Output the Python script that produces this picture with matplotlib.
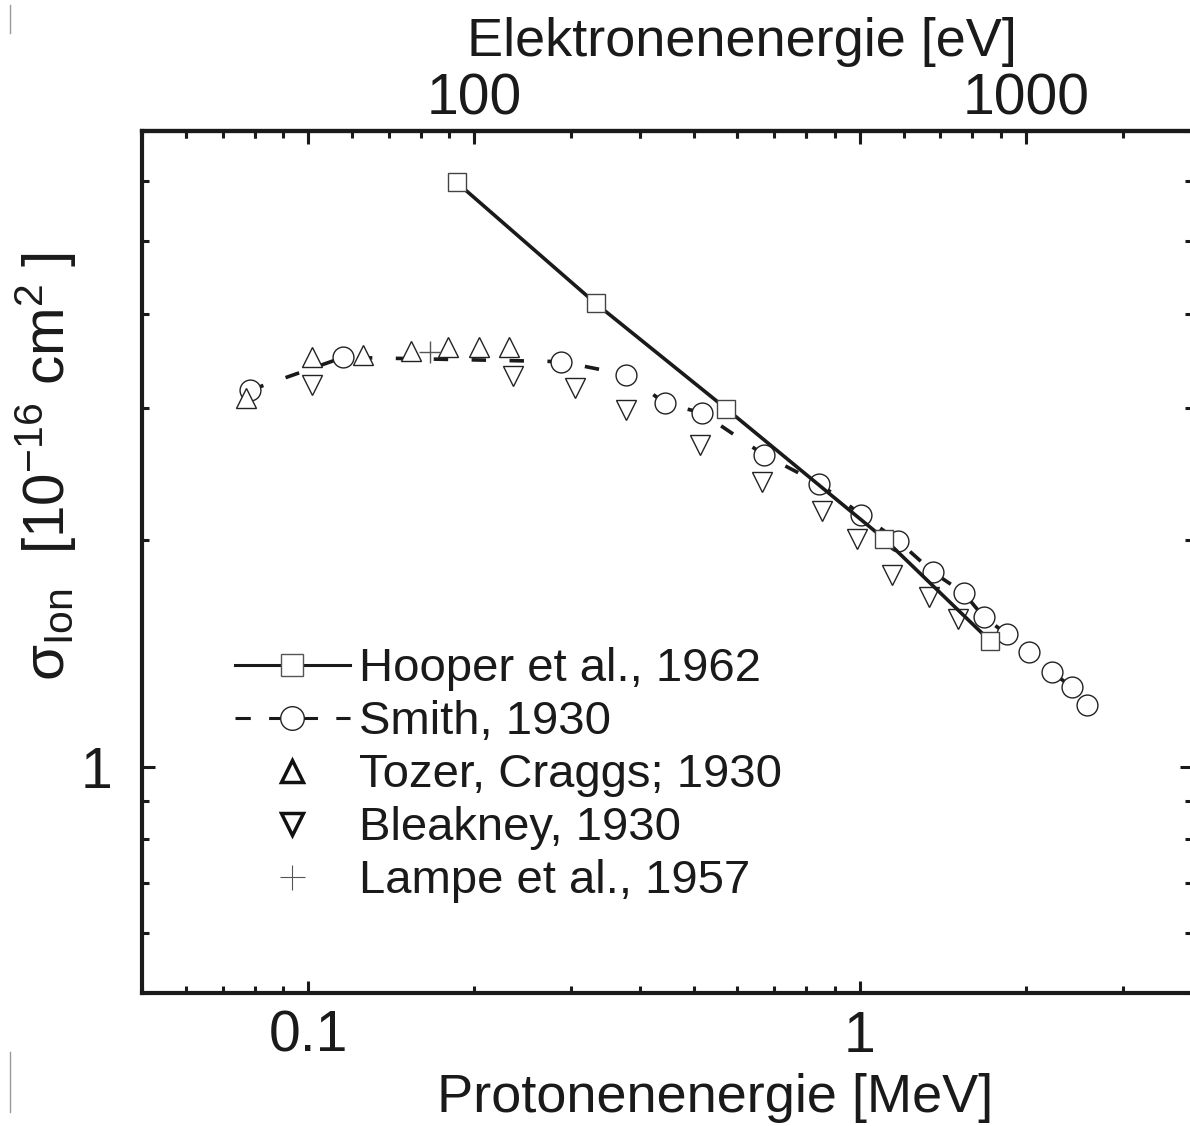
import matplotlib
matplotlib.use('Agg')
import matplotlib.pyplot as plt
from matplotlib.lines import Line2D
from matplotlib.ticker import NullFormatter

plt.rcParams['font.family'] = ['Liberation Sans', 'DejaVu Sans']
plt.rcParams['mathtext.default'] = 'regular'

# ---------------- data ----------------
hooper_E = [0.186, 0.332, 0.573, 1.106, 1.721]
hooper_sigma = [5.98, 4.13, 2.99, 2.01, 1.47]

smith_E = [0.0784, 0.1158, 0.2869, 0.3772, 0.4434, 0.5173, 0.6704, 0.8443, 1.006,
           1.173, 1.359, 1.544, 1.679, 1.846, 2.029, 2.228, 2.423, 2.579]
smith_sigma = [3.165, 3.501, 3.455, 3.320, 3.042, 2.953, 2.597, 2.378, 2.163,
               1.996, 1.812, 1.701, 1.579, 1.501, 1.422, 1.335, 1.276, 1.206]

tozer_E = [0.0773, 0.1016, 0.1260, 0.1536, 0.1790, 0.2038, 0.2316]
tozer_sigma = [3.09, 3.50, 3.53, 3.57, 3.61, 3.61, 3.61]

bleakney_E = [0.1016, 0.2349, 0.3048, 0.3774, 0.5122, 0.6657, 0.8541, 0.9888,
              1.144, 1.336, 1.508]
bleakney_sigma = [3.22, 3.31, 3.19, 2.98, 2.68, 2.39, 2.19, 2.01, 1.80, 1.68, 1.57]

lampe_E = [0.166]
lampe_sigma = [3.56]

series_labels = ['Hooper et al., 1962', 'Smith, 1930', 'Tozer, Craggs; 1930',
                 'Bleakney, 1930', 'Lampe et al., 1957']

x_major = [0.1, 1]
x_major_labels = ['0.1', '1']
x_minor = [0.05, 0.06, 0.07, 0.08, 0.09, 0.2, 0.3, 0.4, 0.5, 0.6, 0.7, 0.8, 0.9, 2, 3, 4]
y_major = [1]
y_major_labels = ['1']
y_minor = [0.5, 0.6, 0.7, 0.8, 0.9, 2, 3, 4, 5, 6, 7]
top_major = [100, 1000]
top_major_labels = ['100', '1000']
top_minor = [30, 40, 50, 60, 70, 80, 90, 200, 300, 400, 500, 600, 700, 800, 900, 2000]
ELECTRON_PER_MEV = 500.0  # eV of electron energy per MeV proton energy (top axis)

# ---------------- figure ----------------
W, H = 1190, 1126
fig = plt.figure(figsize=(W / 100, H / 100), dpi=100)
ax = fig.add_axes([142 / W, 133 / H, 1050 / W, 862 / H])
ax.set_xscale('log')
ax.set_yscale('log')
ax.set_xlim(0.05, 4)
ax.set_ylim(0.5, 7)

dark = '#1a1a1a'
ax.plot(smith_E, smith_sigma, color=dark, lw=2.6, ls=(0, (4, 6.5)),
        marker='o', ms=15, mfc='white', mec='#222222', mew=1.0, zorder=2)
ax.plot(tozer_E, tozer_sigma, ls='none', marker='^', ms=15, mfc='white',
        mec='#222222', mew=1.0, zorder=3)
ax.plot(bleakney_E, bleakney_sigma, ls='none', marker='v', ms=15, mfc='white',
        mec='#222222', mew=1.0, zorder=3)
ax.plot(hooper_E, hooper_sigma, color=dark, lw=2.6, ls='-', marker='s', ms=13,
        mfc='white', mec='#444444', mew=1.0, zorder=4)
ax.plot(lampe_E, lampe_sigma, ls='none', marker='+', ms=16, mew=1.0,
        color='#555555', zorder=5)

# ticks
ax.set_xticks(x_major, labels=x_major_labels)
ax.set_xticks(x_minor, minor=True)
ax.xaxis.set_minor_formatter(NullFormatter())
ax.set_yticks(y_major, labels=y_major_labels)
ax.set_yticks(y_minor, minor=True)
ax.yaxis.set_minor_formatter(NullFormatter())
ax.tick_params(which='both', direction='in', top=True, right=True, width=2.2,
               color=dark, labelsize=41, labelcolor=dark)
ax.tick_params(which='major', length=9)
ax.tick_params(which='minor', length=5)
ax.tick_params(axis='x', pad=12)
ax.tick_params(axis='y', pad=21)
for s in ax.spines.values():
    s.set_linewidth(3)
    s.set_color(dark)

secax = ax.secondary_xaxis('top', functions=(lambda x: x * ELECTRON_PER_MEV,
                                             lambda x: x / ELECTRON_PER_MEV))
secax.set_xticks(top_major, labels=top_major_labels)
secax.set_xticks(top_minor, minor=True)
secax.xaxis.set_minor_formatter(NullFormatter())
secax.tick_params(which='both', direction='in', width=2.2, color=dark,
                  labelsize=41, labelcolor=dark, pad=3)
secax.tick_params(which='major', length=9)
secax.tick_params(which='minor', length=5)
secax.spines['top'].set_linewidth(3)

# labels
ax.set_xlabel('Protonenenergie [MeV]', fontsize=39, color=dark)
ax.xaxis.set_label_coords(0.5457, -0.093)
secax.set_xlabel('Elektronenenergie [eV]', fontsize=39, color=dark)
secax.xaxis.set_label_coords(0.571, 1.087, transform=ax.transAxes)
ax.set_ylabel(r'$\sigma_{Ion}$  [10$^{-16}$ cm$^{2}$ ]', fontsize=42, color=dark)
ax.yaxis.set_label_coords(-0.060, 0.611)

# legend
handles = [
    Line2D([], [], color=dark, lw=2.2, marker='s', ms=16.5, mfc='white', mec='#555555', mew=1.0),
    Line2D([], [], color=dark, lw=2.2, ls=(0, (5, 6)), marker='o', ms=17, mfc='white', mec='#222222', mew=1.0),
    Line2D([], [], ls='none', marker='^', ms=16, mfc='white', mec='#111111', mew=2.5),
    Line2D([], [], ls='none', marker='v', ms=16, mfc='white', mec='#111111', mew=2.5),
    Line2D([], [], ls='none', marker='+', ms=18, color='#555555', mew=0.8),
]
ax.legend(handles, series_labels, loc='upper left', bbox_to_anchor=(0.0886, 0.401),
          frameon=False, fontsize=34, handlelength=2.43, handletextpad=0.2,
          labelspacing=0.19, borderpad=0, borderaxespad=0, numpoints=1,
          labelcolor=dark)

# crop marks at the left edge
fig.add_artist(Line2D([10 / W, 10 / W], [1 - 5 / H, 1 - 33 / H], transform=fig.transFigure,
                      color='#999999', lw=1))
fig.add_artist(Line2D([10 / W, 10 / W], [1 - 1052 / H, 1 - 1112 / H], transform=fig.transFigure,
                      color='#999999', lw=1))

fig.savefig('out.png', dpi=100)
